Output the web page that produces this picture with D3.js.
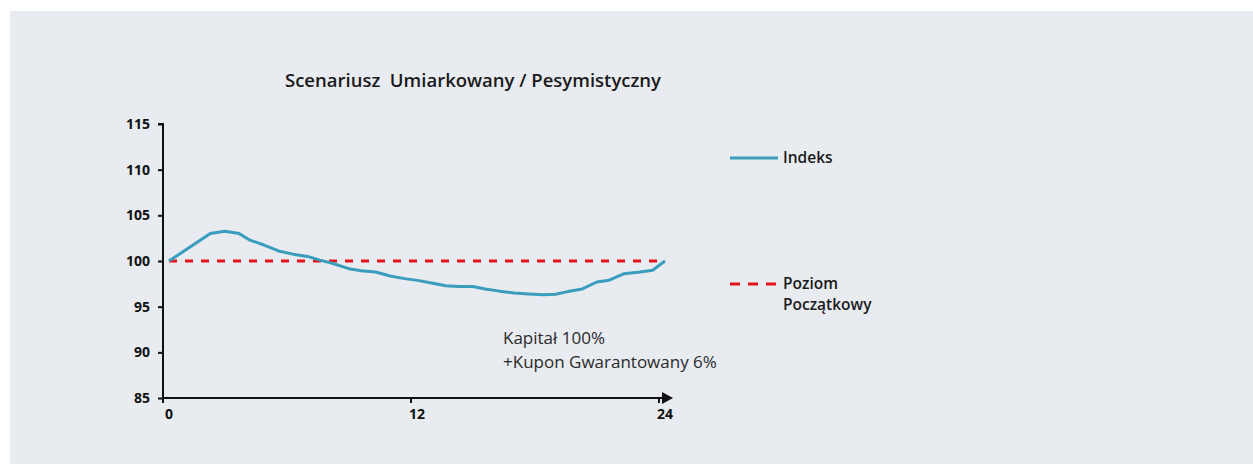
<!DOCTYPE html>
<html>
<head>
<meta charset="utf-8">
<script src="https://cdn.jsdelivr.net/npm/d3@7"></script>
<style>
  html, body { margin: 0; padding: 0; background: #fff; }
  svg { display: block; }
</style>
</head>
<body>
<div id="chart"></div>
<script>
// data
const months = [0, 2, 2.7, 3.4, 3.9, 4.6, 5.3, 6.0, 6.7, 7.3, 7.9, 8.7, 9.3, 10.0, 10.7, 11.4, 12.1, 12.7, 13.4, 14.0, 14.7, 15.3, 16.0, 16.7, 17.4, 18.1, 18.7, 19.3, 20.0, 20.7, 21.3, 22.0, 22.7, 23.4, 24];
const indeks = [100, 103.0, 103.25, 103.0, 102.3, 101.75, 101.1, 100.75, 100.5, 100.1, 99.75, 99.16, 98.94, 98.8, 98.36, 98.07, 97.85, 97.6, 97.3, 97.2, 97.2, 96.94, 96.7, 96.5, 96.4, 96.3, 96.35, 96.65, 96.94, 97.7, 97.9, 98.6, 98.76, 98.98, 100];
const baseLevel = 100;
const yTicks = [85, 90, 95, 100, 105, 110, 115];
const xTicks = [0, 12, 24];
const title = "Scenariusz\u00a0 Umiarkowany / Pesymistyczny";
const noteLines = ["Kapitał 100%", "+Kupon Gwarantowany 6%"];
const legendItems = [
  { lines: ["Indeks"], color: "#3a9dbd", dash: null },
  { lines: ["Poziom", "Początkowy"], color: "#e5141b", dash: "10 8" }
];

const W = 1253, H = 464;
const font = "'Open Sans', 'DejaVu Sans', sans-serif";

const svg = d3.select("#chart").append("svg")
  .attr("width", W)
  .attr("height", H);

svg.append("rect")
  .attr("x", 10).attr("y", 11)
  .attr("width", W - 10).attr("height", H - 11)
  .attr("fill", "#e8ebf0");

const x = d3.scaleLinear().domain([0, 24]).range([169, 665]);
const y = d3.scaleLinear().domain([85, 115]).range([398, 124]);
const axisX = 163;

// title
svg.append("text")
  .attr("x", 473).attr("y", 87)
  .attr("text-anchor", "middle")
  .attr("font-family", font)
  .attr("font-size", 18.5)
  .attr("font-weight", 600)
  .attr("fill", "#1a1a1a")
  .text(title);

// y axis
const yAxis = svg.append("g")
  .attr("transform", `translate(${axisX},0)`)
  .call(d3.axisLeft(y).tickValues(yTicks).tickSize(5).tickPadding(8));
yAxis.select(".domain").attr("stroke", "#111").attr("stroke-width", 2).attr("d", `M-5,${y(115)}H0V${y(85)}`);
yAxis.selectAll(".tick line").attr("stroke", "#111").attr("stroke-width", 2);
yAxis.selectAll(".tick text")
  .attr("font-family", font).attr("font-size", 14).attr("font-weight", 700).attr("fill", "#111");

// x axis
const xAxisY = y(85);
const xg = svg.append("g");
xg.append("line")
  .attr("x1", axisX).attr("x2", 664)
  .attr("y1", xAxisY).attr("y2", xAxisY)
  .attr("stroke", "#111").attr("stroke-width", 2);
xg.append("path")
  .attr("d", `M662,${xAxisY - 6}L673,${xAxisY}L662,${xAxisY + 6}Z`)
  .attr("fill", "#111");
const tickPos = d => d === 0 ? axisX : x(d) - 6;
xg.selectAll(".xt").data(xTicks).enter().append("line")
  .attr("x1", tickPos).attr("x2", tickPos)
  .attr("y1", xAxisY).attr("y2", xAxisY + 5)
  .attr("stroke", "#111").attr("stroke-width", 2);
xg.selectAll(".xl").data(xTicks).enter().append("text")
  .attr("x", d => x(d))
  .attr("y", xAxisY + 21)
  .attr("text-anchor", "middle")
  .attr("font-family", font).attr("font-size", 14).attr("font-weight", 700).attr("fill", "#111")
  .text(d => d);

// base level dashed line
svg.append("line")
  .attr("x1", x(0)).attr("x2", x(24))
  .attr("y1", y(baseLevel)).attr("y2", y(baseLevel))
  .attr("stroke", legendItems[1].color)
  .attr("stroke-width", 3)
  .attr("stroke-dasharray", "8 8");

// index line
const line = d3.line()
  .x((d, i) => x(months[i]))
  .y(d => y(d));
svg.append("path")
  .datum(indeks)
  .attr("d", line)
  .attr("fill", "none")
  .attr("stroke", legendItems[0].color)
  .attr("stroke-width", 3)
  .attr("stroke-linejoin", "round");

// note
svg.append("g").selectAll("text").data(noteLines).enter().append("text")
  .attr("x", 503)
  .attr("y", (d, i) => 344 + i * 24)
  .attr("font-family", font).attr("font-size", 17).attr("font-weight", 400).attr("fill", "#2a2a2a")
  .text(d => d);

// legend
const legendY = [158, 284];
legendItems.forEach((item, i) => {
  const g = svg.append("g").attr("transform", `translate(0,${legendY[i]})`);
  g.append("line")
    .attr("x1", 730).attr("x2", 778)
    .attr("y1", 0).attr("y2", 0)
    .attr("stroke", item.color)
    .attr("stroke-width", 3)
    .attr("stroke-dasharray", item.dash);
  g.selectAll("text").data(item.lines).enter().append("text")
    .attr("x", 783)
    .attr("y", (d, j) => 5 + j * 21)
    .attr("font-family", font).attr("font-size", 15.5).attr("font-weight", 600).attr("fill", "#1a1a1a")
    .text(d => d);
});
</script>
</body>
</html>
